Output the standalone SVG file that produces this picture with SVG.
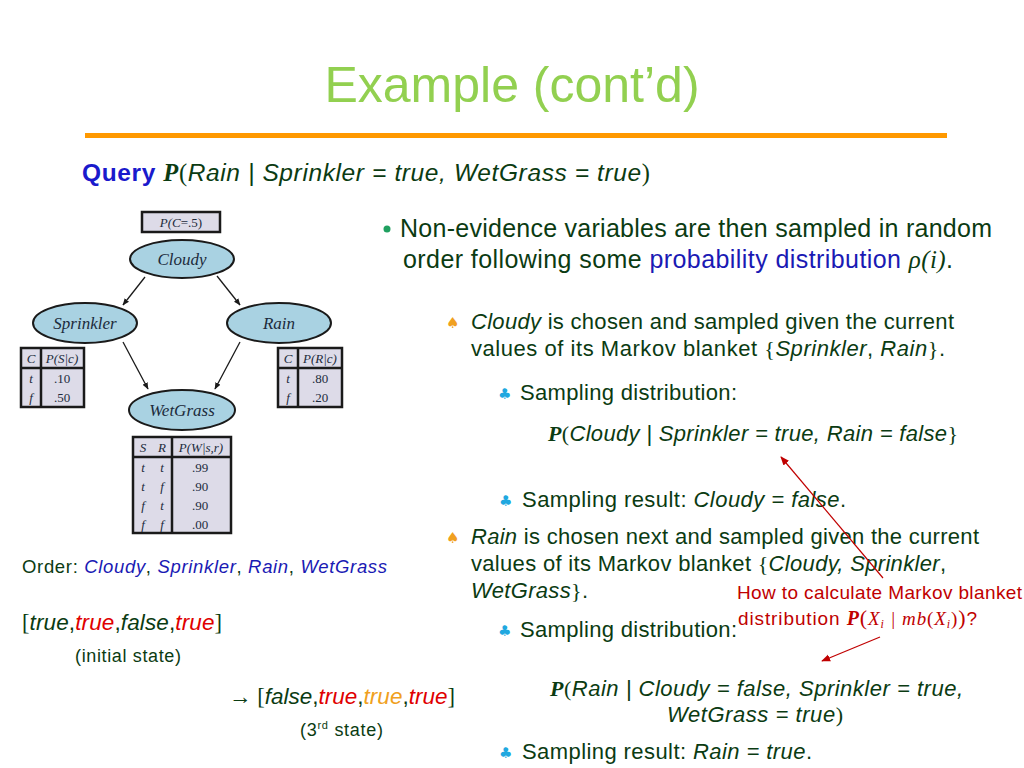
<svg xmlns="http://www.w3.org/2000/svg" width="1024" height="768" viewBox="0 0 1024 768">
<defs>
<marker id="ah" viewBox="0 0 10 10" refX="9" refY="5" markerWidth="7" markerHeight="7" orient="auto" markerUnits="userSpaceOnUse"><path d="M0,1 L10,5 L0,9 Z" fill="#1a1a1a"/></marker>
<marker id="rah" viewBox="0 0 10 10" refX="9" refY="5" markerWidth="9" markerHeight="9" orient="auto" markerUnits="userSpaceOnUse"><path d="M0,1 L10,5 L0,9 Z" fill="#c00000"/></marker>
</defs>
<style>
.t{font-family:"Liberation Sans",Arial,sans-serif;fill:#0b3b12}
.s{font-family:"Liberation Serif","Times New Roman",serif}
.i{font-style:italic}
.P{font-family:"Liberation Serif","Times New Roman",serif;font-weight:bold;font-style:italic}
.node{fill:#a9d2e2;stroke:#1a1a1a;stroke-width:2}
.tab{fill:#dddbe8;stroke:#1a1a1a;stroke-width:2.5}
.tl{stroke:#1a1a1a;stroke-width:2.5}
.nl{font-family:"Liberation Serif","Times New Roman",serif;font-style:italic;font-size:17px;fill:#1c2b3c;text-anchor:middle}
.tt{font-family:"Liberation Serif","Times New Roman",serif;font-size:13px;fill:#1c2b3c;text-anchor:middle}
.edge{stroke:#1a1a1a;stroke-width:1.3;fill:none}
.red{stroke:#c00000;stroke-width:1.2;fill:none}
.blue{fill:#1a1ab4}
.rd{fill:#e00000}
.or{fill:#f0a020}
.sp{font-family:"DejaVu Sans",sans-serif;font-size:15px;fill:#f0a020}
.cl{font-family:"DejaVu Sans",sans-serif;font-size:15px;fill:#20a8e0}
</style>
<rect width="1024" height="768" fill="#ffffff"/>
<text x="512" y="102" text-anchor="middle" font-family="Liberation Sans,Arial,sans-serif" font-size="50" fill="#92d050">Example (cont’d)</text>
<rect x="85" y="133" width="862" height="5" fill="#ff9900"/>

<text class="t" x="82" y="181" font-size="24.5" textLength="568"><tspan font-weight="bold" fill="#1a1acc">Query</tspan> <tspan class="P">P</tspan><tspan class="s">(</tspan><tspan class="i">Rain | Sprinkler = true, WetGrass = true</tspan><tspan class="s">)</tspan></text>

<g id="connectors">
<line class="edge" x1="145" y1="277" x2="123" y2="305" marker-end="url(#ah)"/>
<line class="edge" x1="217" y1="276" x2="240" y2="305" marker-end="url(#ah)"/>
<line class="edge" x1="123" y1="342" x2="148" y2="389" marker-end="url(#ah)"/>
<line class="edge" x1="240" y1="342" x2="215" y2="389" marker-end="url(#ah)"/>
</g>

<g id="pc">
<rect class="tab" x="142" y="212" width="78" height="20"/>
<text class="tt" x="181" y="227" font-style="italic">P(C<tspan font-style="normal">=.5)</tspan></text>
</g>
<g id="cloudy"><ellipse class="node" cx="182" cy="259" rx="52" ry="19"/><text class="nl" x="182" y="265">Cloudy</text></g>
<g id="sprinkler"><ellipse class="node" cx="85" cy="323" rx="52" ry="20"/><text class="nl" x="85" y="329">Sprinkler</text></g>
<g id="rain"><ellipse class="node" cx="279" cy="323" rx="52" ry="20"/><text class="nl" x="279" y="329">Rain</text></g>
<g id="wetgrass"><ellipse class="node" cx="182" cy="410" rx="53" ry="20"/><text class="nl" x="182" y="416">WetGrass</text></g>

<g id="tableS">
<rect class="tab" x="21" y="348" width="63" height="59"/>
<line class="tl" x1="41" y1="348" x2="41" y2="407"/>
<line class="tl" x1="21" y1="368" x2="84" y2="368"/>
<text class="tt" x="31" y="363" font-style="italic">C</text>
<text class="tt" x="62" y="363" font-style="italic">P(S|c)</text>
<text class="tt" x="31" y="383" font-style="italic">t</text><text class="tt" x="62" y="383">.10</text>
<text class="tt" x="31" y="402" font-style="italic">f</text><text class="tt" x="62" y="402">.50</text>
</g>
<g id="tableR">
<rect class="tab" x="278" y="348" width="64" height="59"/>
<line class="tl" x1="298" y1="348" x2="298" y2="407"/>
<line class="tl" x1="278" y1="368" x2="342" y2="368"/>
<text class="tt" x="288" y="363" font-style="italic">C</text>
<text class="tt" x="320" y="363" font-style="italic">P(R|c)</text>
<text class="tt" x="288" y="383" font-style="italic">t</text><text class="tt" x="320" y="383">.80</text>
<text class="tt" x="288" y="402" font-style="italic">f</text><text class="tt" x="320" y="402">.20</text>
</g>
<g id="tableW">
<rect class="tab" x="133" y="437" width="98" height="96"/>
<line class="tl" x1="172" y1="437" x2="172" y2="533"/>
<line class="tl" x1="133" y1="457" x2="231" y2="457"/>
<text class="tt" x="143" y="452" font-style="italic">S</text><text class="tt" x="162" y="452" font-style="italic">R</text>
<text class="tt" x="201" y="452" font-style="italic">P(W|s,r)</text>
<text class="tt" x="143" y="472" font-style="italic">t</text><text class="tt" x="162" y="472" font-style="italic">t</text><text class="tt" x="200" y="472">.99</text>
<text class="tt" x="143" y="491" font-style="italic">t</text><text class="tt" x="162" y="491" font-style="italic">f</text><text class="tt" x="200" y="491">.90</text>
<text class="tt" x="143" y="510" font-style="italic">f</text><text class="tt" x="162" y="510" font-style="italic">t</text><text class="tt" x="200" y="510">.90</text>
<text class="tt" x="143" y="529" font-style="italic">f</text><text class="tt" x="162" y="529" font-style="italic">f</text><text class="tt" x="200" y="529">.00</text>
</g>

<circle cx="387" cy="229" r="3.5" fill="#20a060"/>
<text class="t" x="400" y="237" font-size="25" textLength="592">Non-evidence variables are then sampled in random</text>
<text class="t" x="403" y="268" font-size="25" textLength="550">order following some <tspan class="blue">probability distribution</tspan> <tspan class="s i">ρ(i)</tspan>.</text>

<text class="sp" x="446" y="328">♠</text>
<text class="t" x="471" y="329" font-size="22" textLength="483"><tspan class="i">Cloudy</tspan> is chosen and sampled given the current</text>
<text class="t" x="471" y="356" font-size="22" textLength="474">values of its Markov blanket <tspan class="s">{</tspan><tspan class="i">Sprinkler</tspan>, <tspan class="i">Rain</tspan><tspan class="s">}</tspan>.</text>

<text class="cl" x="498" y="399">♣</text>
<text class="t" x="520" y="400" font-size="22" textLength="217">Sampling distribution:</text>
<text class="t" x="548" y="441" font-size="22" textLength="410"><tspan class="P">P</tspan><tspan class="s">(</tspan><tspan class="i">Cloudy | Sprinkler = true, Rain = false</tspan><tspan class="s">}</tspan></text>

<text class="cl" x="499" y="506">♣</text>
<text class="t" x="522" y="507" font-size="22" textLength="324">Sampling result: <tspan class="i">Cloudy = false</tspan>.</text>

<text class="sp" x="446" y="543">♠</text>
<text class="t" x="471" y="544" font-size="22" textLength="508"><tspan class="i">Rain</tspan> is chosen next and sampled given the current</text>
<text class="t" x="471" y="571" font-size="22" textLength="475">values of its Markov blanket <tspan class="s">{</tspan><tspan class="i">Cloudy, Sprinkler</tspan>,</text>
<text class="t" x="471" y="598" font-size="22" textLength="117"><tspan class="i">WetGrass</tspan><tspan class="s">}</tspan>.</text>

<text x="737" y="599" font-family="Liberation Sans,Arial,sans-serif" font-size="19" fill="#c00000" textLength="285">How to calculate Markov blanket</text>
<text x="738" y="625" font-family="Liberation Sans,Arial,sans-serif" font-size="19" fill="#c00000" textLength="239">distribution <tspan class="P" font-size="20">P</tspan><tspan font-family="Liberation Serif,serif" font-size="22">(</tspan><tspan font-family="Liberation Serif,serif" font-style="italic">X<tspan font-size="12" dy="3">i</tspan><tspan dy="-3"> | mb</tspan></tspan><tspan font-family="Liberation Serif,serif">(</tspan><tspan font-family="Liberation Serif,serif" font-style="italic">X<tspan font-size="12" dy="3">i</tspan></tspan><tspan font-family="Liberation Serif,serif" dy="-3">)</tspan><tspan font-family="Liberation Serif,serif" font-size="22">)</tspan>?</text>

<text class="cl" x="498" y="636">♣</text>
<text class="t" x="520" y="637" font-size="22" textLength="217">Sampling distribution:</text>

<text class="t" x="550" y="696" font-size="22" textLength="413"><tspan class="P">P</tspan><tspan class="s">(</tspan><tspan class="i">Rain | Cloudy = false, Sprinkler = true,</tspan></text>
<text class="t" x="667" y="722" font-size="22" textLength="176"><tspan class="i">WetGrass = true</tspan><tspan class="s">)</tspan></text>

<text class="cl" x="499" y="758">♣</text>
<text class="t" x="522" y="759" font-size="22" textLength="290">Sampling result: <tspan class="i">Rain = true</tspan>.</text>

<g id="redarrows">
<line class="red" x1="883" y1="578" x2="781" y2="457" marker-end="url(#rah)"/>
<line class="red" x1="880" y1="637" x2="822" y2="661" marker-end="url(#rah)"/>
</g>

<text class="t" x="22" y="573" font-size="18.5" textLength="365">Order: <tspan class="blue i">Cloudy</tspan>, <tspan class="blue i">Sprinkler</tspan>, <tspan class="blue i">Rain</tspan>, <tspan class="blue i">WetGrass</tspan></text>
<text class="t" x="22" y="630" font-size="22.5" textLength="200"><tspan class="s">[</tspan><tspan class="i">true</tspan>,<tspan class="i rd">true</tspan>,<tspan class="i">false</tspan>,<tspan class="i rd">true</tspan><tspan class="s">]</tspan></text>
<text class="t" x="75" y="662" font-size="18" textLength="106">(initial state)</text>
<text class="t" x="229" y="704" font-size="22.5" textLength="226"><tspan class="s">→ [</tspan><tspan class="i">false</tspan>,<tspan class="i rd">true</tspan>,<tspan class="i or">true</tspan>,<tspan class="i rd">true</tspan><tspan class="s">]</tspan></text>
<text class="t" x="300" y="736" font-size="18" textLength="83">(3<tspan font-size="11" dy="-7">rd</tspan><tspan dy="7"> state)</tspan></text>
</svg>
